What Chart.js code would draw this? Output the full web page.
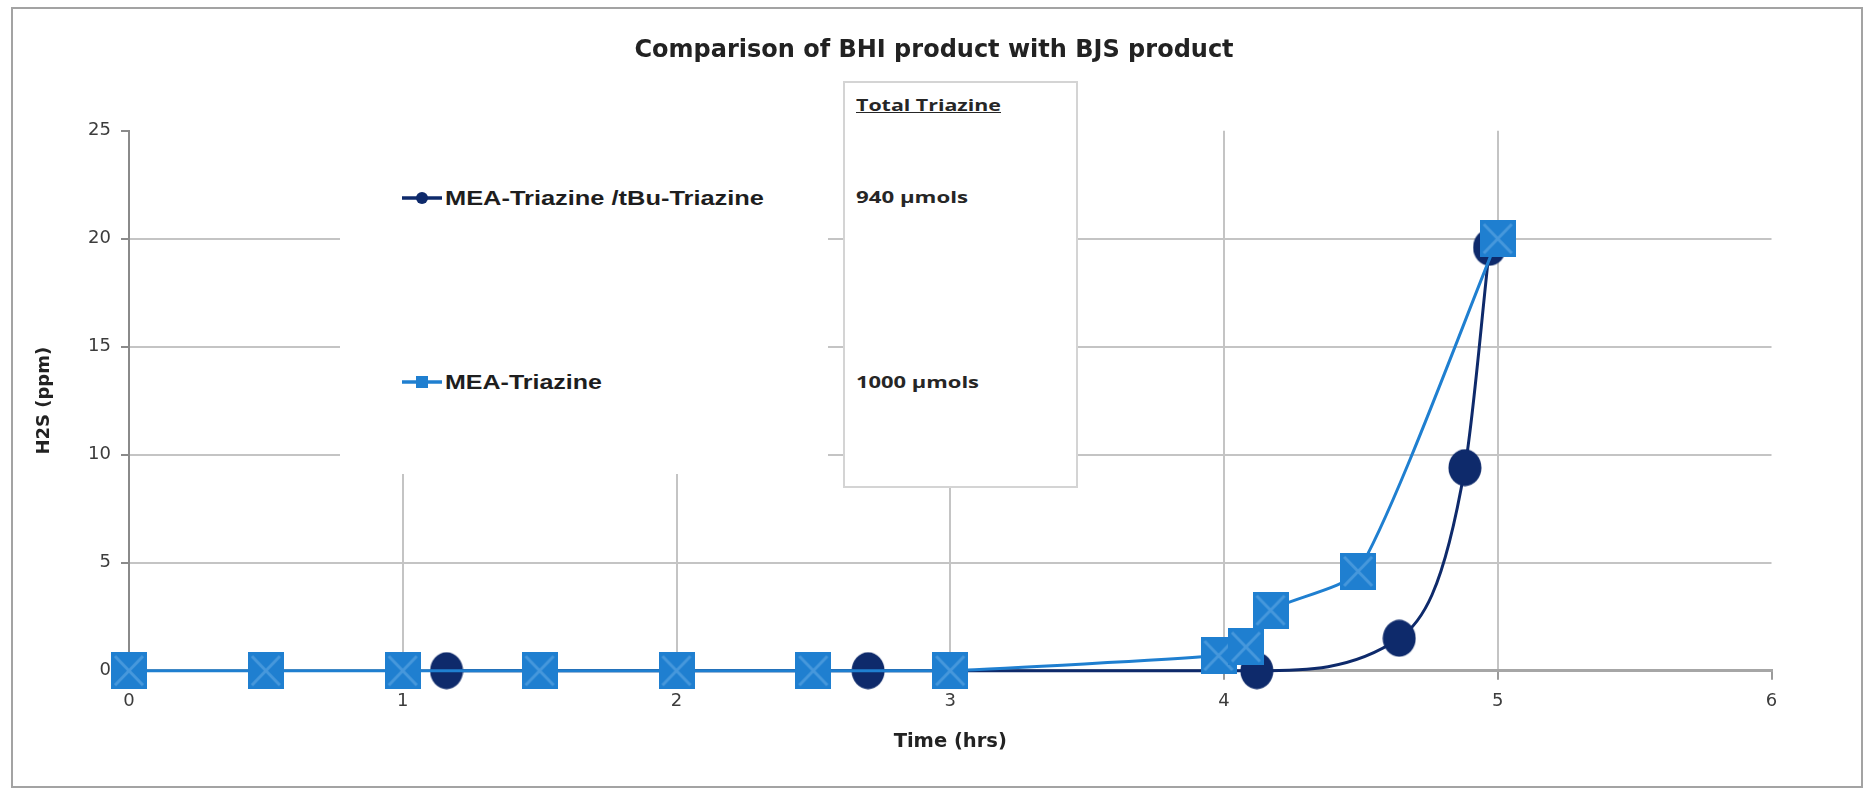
<!DOCTYPE html>
<html>
<head>
<meta charset="utf-8">
<script src="https://cdn.jsdelivr.net/npm/chart.js@4.4.1/dist/chart.umd.min.js"></script>
<style>
html,body{margin:0;padding:0;background:#fff;}
#wrap{position:relative;width:1868px;height:794px;overflow:hidden;background:#fff;}
#chart{position:absolute;left:0;top:0;}
#frame{position:absolute;left:11px;top:7px;width:1848px;height:777px;border:2px solid #a3a3a3;pointer-events:none;}
#legendBox{position:absolute;left:340px;top:119px;width:488px;height:355px;background:#fff;}
.item{position:absolute;left:62px;height:30px;display:flex;align-items:center;white-space:nowrap;}
.item svg{flex:none;}
.ltxt{display:inline-block;margin-left:3px;font-family:"Liberation Sans",Arial,sans-serif;font-weight:bold;font-size:20px;color:#1e1e1e;transform-origin:left center;}
#textBox{position:absolute;left:843px;top:81px;width:235px;height:407px;background:#fff;border:2px solid #d4d4d4;box-sizing:border-box;}
.ttxt{position:absolute;left:11px;display:inline-block;font-family:"Open Sans","Liberation Sans",sans-serif;font-size:16px;font-weight:bold;color:#262626;transform-origin:left center;white-space:nowrap;line-height:20px;}
</style>
</head>
<body>
<div id="wrap">
  <canvas id="chart" width="1868" height="794"></canvas>
  <div id="legendBox">
    <div class="item" id="leg0" style="top:64px;">
      <svg width="40" height="16" viewBox="0 0 40 16"><line x1="0" y1="8" x2="40" y2="8" stroke="#0e2a6b" stroke-width="3.5"/><ellipse cx="20" cy="8" rx="6" ry="6" fill="#0e2a6b"/></svg>
      <span class="ltxt" id="legTxt0"></span>
    </div>
    <div class="item" id="leg1" style="top:248px;">
      <svg width="40" height="16" viewBox="0 0 40 16"><line x1="0" y1="8" x2="40" y2="8" stroke="#1f7fd0" stroke-width="3.5"/><rect x="14" y="2" width="12" height="12" fill="#1f7fd0"/></svg>
      <span class="ltxt" id="legTxt1"></span>
    </div>
  </div>
  <div id="textBox">
    <span class="ttxt" id="tbHead" style="top:12px;text-decoration:underline;"></span>
    <span class="ttxt" id="tbVal0" style="top:104px;"></span>
    <span class="ttxt" id="tbVal1" style="top:289px;"></span>
  </div>
  <div id="frame"></div>
</div>
<script>
// ---- data ----
const seriesNames = ['MEA-Triazine /tBu-Triazine', 'MEA-Triazine'];
const totalHeading = 'Total Triazine';
const totalValues = ['940 \u00b5mols', '1000 \u00b5mols'];

const timeMix = [1.16, 2.70, 4.12, 4.64, 4.88, 4.97];
const h2sMix  = [0, 0, 0, 1.5, 9.4, 19.6];

const timeMEA = [0, 0.5, 1, 1.5, 2, 2.5, 3, 3.98, 4.08, 4.17, 4.49, 5.0];
const h2sMEA  = [0, 0, 0, 0, 0, 0, 0, 0.7, 1.1, 2.8, 4.6, 20.0];

const xTicks = [0, 1, 2, 3, 4, 5, 6];
const yTicks = [0, 5, 10, 15, 20, 25];

const chartTitle = 'Comparison of BHI product with BJS product';
const xTitle = 'Time (hrs)';
const yTitle = 'H2S (ppm)';

// ---- texts ----
document.getElementById('legTxt0').textContent = seriesNames[0];
document.getElementById('legTxt1').textContent = seriesNames[1];
document.getElementById('tbHead').textContent = totalHeading;
document.getElementById('tbVal0').textContent = totalValues[0];
document.getElementById('tbVal1').textContent = totalValues[1];

function fitWidth(id, target) {
  const el = document.getElementById(id);
  const w = el.getBoundingClientRect().width;
  if (w > 0) el.style.transform = 'scaleX(' + (target / w) + ')';
}
fitWidth('legTxt0', 319);
fitWidth('legTxt1', 157);
fitWidth('tbHead', 145);
fitWidth('tbVal0', 112);
fitWidth('tbVal1', 123);

// ---- markers ----
const LIGHT = '#1f7fd0';
const DARK = '#0e2a6b';
function squareMarker() {
  const c = document.createElement('canvas');
  c.width = 36; c.height = 37;
  const g = c.getContext('2d');
  g.fillStyle = LIGHT; g.fillRect(0, 0, 36, 37);
  g.strokeStyle = 'rgba(120,185,235,0.45)'; g.lineWidth = 3;
  g.beginPath(); g.moveTo(4, 4); g.lineTo(32, 33); g.moveTo(32, 4); g.lineTo(4, 33); g.stroke();
  return c;
}
function ellipseMarker() {
  const c = document.createElement('canvas');
  c.width = 34; c.height = 38;
  const g = c.getContext('2d');
  g.fillStyle = DARK;
  g.beginPath(); g.ellipse(17, 19, 16.5, 18.5, 0, 0, Math.PI * 2); g.fill();
  return c;
}

const ctx = document.getElementById('chart').getContext('2d');
new Chart(ctx, {
  type: 'line',
  data: {
    datasets: [
      {
        label: seriesNames[0],
        data: timeMix.map((t, i) => ({x: t, y: h2sMix[i]})),
        borderColor: DARK,
        backgroundColor: DARK,
        borderWidth: 3,
        pointStyle: ellipseMarker(),
        pointRadius: 17,
        cubicInterpolationMode: 'monotone',
        clip: false,
        order: 2
      },
      {
        label: seriesNames[1],
        data: timeMEA.map((t, i) => ({x: t, y: h2sMEA[i]})),
        borderColor: LIGHT,
        backgroundColor: LIGHT,
        borderWidth: 3,
        pointStyle: squareMarker(),
        pointRadius: 18,
        tension: 0.2,
        clip: false,
        order: 1
      }
    ]
  },
  options: {
    responsive: false,
    devicePixelRatio: 1,
    animation: false,
    events: [],
    layout: { padding: { left: 0, right: 0, top: 0, bottom: 0 } },
    plugins: {
      legend: { display: false },
      tooltip: { enabled: false },
      title: {
        display: true,
        text: chartTitle,
        color: '#222',
        font: { family: 'DejaVu Sans', weight: 'bold', size: 24 },
        padding: { top: 36.5, bottom: 65.4 }
      }
    },
    scales: {
      x: {
        type: 'linear',
        min: 0, max: 6,
        afterBuildTicks: s => { s.ticks = xTicks.map(v => ({value: v})); },
        afterFit: s => { s.height = 123.3; },
        grid: {
          color: c => (c.tick && (c.tick.value === 0 || c.tick.value === 6)) ? 'rgba(0,0,0,0)' : '#c4c4c4',
          lineWidth: 2,
          drawTicks: true,
          tickLength: 9,
          tickColor: '#9a9a9a',
          tickWidth: 2
        },
        border: { display: true, color: '#a6a6a6', width: 3 },
        ticks: {
          color: '#3c3c3c',
          font: { family: 'DejaVu Sans', size: 18 },
          padding: 11,
          maxRotation: 0,
          callback: v => String(v)
        },
        title: {
          display: true,
          text: xTitle,
          color: '#222',
          font: { family: 'DejaVu Sans', weight: 'bold', size: 19.5 },
          padding: { top: 0, bottom: 40 }
        }
      },
      y: {
        type: 'linear',
        min: 0, max: 25,
        afterBuildTicks: s => { s.ticks = yTicks.map(v => ({value: v})); },
        afterFit: s => { s.width = 129; },
        grid: {
          color: c => (c.tick && (c.tick.value === 0 || c.tick.value === 25)) ? 'rgba(0,0,0,0)' : '#c4c4c4',
          lineWidth: 2,
          drawTicks: true,
          tickLength: 8,
          tickColor: '#8a8a8a',
          tickWidth: 2
        },
        border: { display: true, color: '#8a8a8a', width: 2 },
        ticks: {
          color: '#3c3c3c',
          font: { family: 'DejaVu Sans', size: 18 },
          padding: 10,
          callback: v => String(v)
        },
        title: {
          display: true,
          text: yTitle,
          color: '#222',
          font: { family: 'DejaVu Sans', weight: 'bold', size: 18 },
          padding: { top: 34, bottom: 0 }
        }
      },
      yRight: {
        type: 'linear',
        position: 'right',
        min: 0, max: 25,
        display: true,
        afterFit: s => { s.width = 96.5; },
        grid: { display: false, drawTicks: false },
        border: { display: false },
        ticks: { display: false }
      }
    }
  }
});
</script>
</body>
</html>
